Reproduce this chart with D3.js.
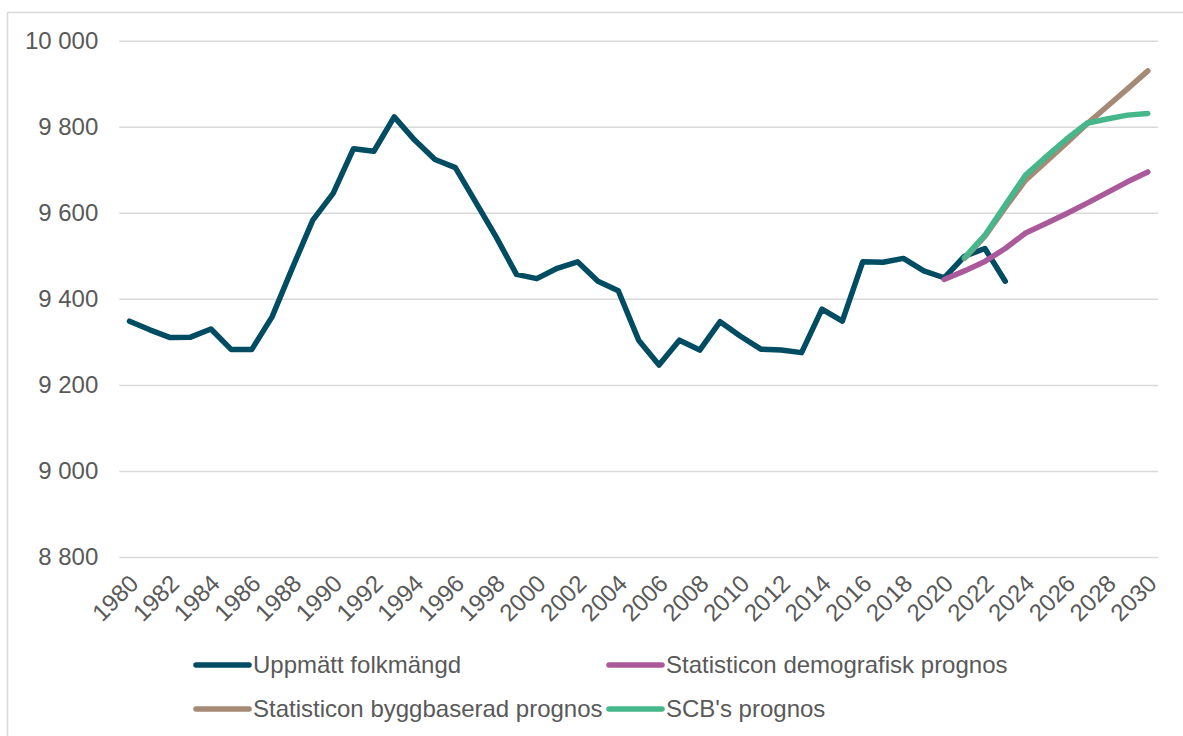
<!DOCTYPE html>
<html><head><meta charset="utf-8">
<script src="https://cdn.jsdelivr.net/npm/d3@7"></script>
<style>
html,body{margin:0;padding:0;background:#fff;}
svg{display:block;font-family:"Liberation Sans",Arial,sans-serif;}
</style></head>
<body>
<svg id="chart" width="1183" height="736"></svg>
<script>
const years = d3.range(1980, 2031);
const measuredYears = d3.range(1980, 2024);
const measured = [9348,9328,9310,9311,9330,9282,9282,9358,9472,9583,9645,9749,9743,9823,9769,9724,9705,9625,9544,9457,9447,9471,9486,9441,9419,9304,9246,9304,9281,9347,9313,9283,9281,9275,9376,9348,9486,9485,9494,9465,9449,9499,9517,9441];
const demoYears = d3.range(2020, 2031);
const demo = [9445,9465,9487,9517,9553,9575,9598,9622,9647,9672,9695];
const byggYears = d3.range(2021, 2031);
const bygg = [9494,9545,9612,9676,9719,9762,9806,9847,9888,9930];
const scbYears = d3.range(2021, 2031);
const scb = [9496,9548,9618,9688,9730,9771,9808,9818,9827,9831];
const yTicks = [8800,9000,9200,9400,9600,9800,10000];
const xTickYears = years.filter(y => y % 2 === 0);
const seriesNames = ["Uppmätt folkmängd","Statisticon demografisk prognos","Statisticon byggbaserad prognos","SCB's prognos"];
const seriesColors = ["#004c63","#aa5a9a","#a58a76","#46b68b"];

const svg = d3.select("#chart");
const textColor = "#595959";
const fs = 24;

svg.append("rect").attr("x",7.5).attr("y",12.5).attr("width",1200).attr("height",760)
  .attr("fill","#fff").attr("stroke","#d9d9d9").attr("stroke-width",1.5);

const x = d3.scalePoint().domain(years).range([119.3,1158]).padding(0.5);
const y = d3.scaleLinear().domain([8800,10000]).range([557,40.7]);

const fmt = v => d3.format(",")(v).replace(/,/g," ");

// gridlines
const gy = svg.append("g").attr("transform","translate(119.3,0)")
  .call(d3.axisLeft(y).tickValues(yTicks).tickSize(-(1158-119.3)).tickFormat(fmt).tickPadding(21));
gy.select(".domain").remove();
gy.selectAll(".tick line").attr("stroke","#d9d9d9").attr("stroke-width",1.5);
gy.selectAll(".tick text").attr("fill",textColor).style("font-size",fs+"px")
  .style("font-family","'Liberation Sans',Arial,sans-serif");

// x labels
const gx = svg.append("g").attr("transform","translate(0,557)")
  .call(d3.axisBottom(x).tickValues(xTickYears).tickSize(0).tickFormat(d => d));
gx.select(".domain").remove();
gx.selectAll(".tick text").attr("fill",textColor).style("font-size",fs+"px")
  .style("font-family","'Liberation Sans',Arial,sans-serif")
  .attr("text-anchor","end").attr("dy","0.35em").attr("y",0)
  .attr("transform","translate(4,22) rotate(-45)");

const line = d3.line().x(d => x(d[0])).y(d => y(d[1]));
const draw = (yrs, vals, color) => svg.append("path")
  .datum(yrs.map((yr,i) => [yr, vals[i]]))
  .attr("d", line).attr("fill","none").attr("stroke",color)
  .attr("stroke-width",5.5).attr("stroke-linejoin","round").attr("stroke-linecap","round");

draw(measuredYears, measured, seriesColors[0]);
draw(demoYears, demo, seriesColors[1]);
draw(byggYears, bygg, seriesColors[2]);
draw(scbYears, scb, seriesColors[3]);

// legend
const legendPos = [[196,665],[609,665],[196,709],[609,709]];
seriesNames.forEach((name,i) => {
  const [lx,ly] = legendPos[i];
  svg.append("line").attr("x1",lx).attr("x2",lx+53).attr("y1",ly).attr("y2",ly)
    .attr("stroke",seriesColors[i]).attr("stroke-width",5.5).attr("stroke-linecap","round");
  svg.append("text").attr("x",lx+57).attr("y",ly).attr("dy","0.35em")
    .attr("fill",textColor).style("font-size",fs+"px").text(name);
});
</script>
</body></html>
